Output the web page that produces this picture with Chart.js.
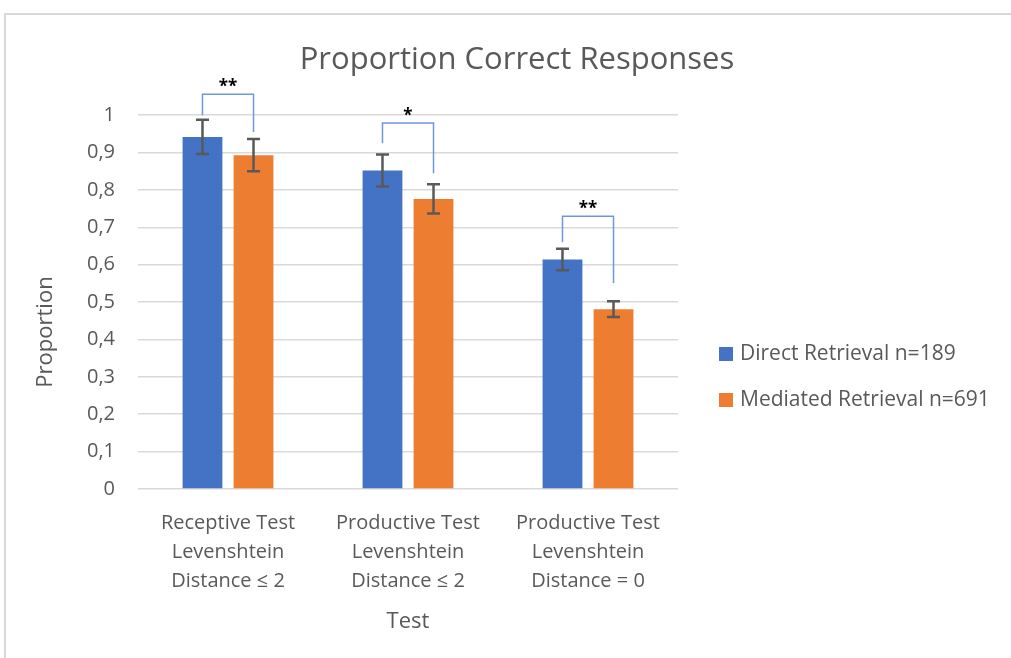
<!DOCTYPE html>
<html>
<head>
<meta charset="utf-8">
<script src="https://cdn.jsdelivr.net/npm/chart.js@4"></script>
<style>
  html, body { margin: 0; padding: 0; background: #fff; }
  #wrap { position: relative; width: 1011px; height: 658px; overflow: hidden; }
  #frame {
    position: absolute; left: 4px; top: 13px; width: 1100px; height: 700px;
    border-left: 2px solid #d9d9d9; border-top: 2px solid #d9d9d9;
  }
  canvas { position: absolute; left: 0; top: 0; }
</style>
</head>
<body>
<div id="wrap">
  <canvas id="chart" width="1011" height="658"></canvas>
  <div id="frame"></div>
</div>
<script>
const categories = [
  ["Receptive Test", "Levenshtein", "Distance ≤ 2"],
  ["Productive Test", "Levenshtein", "Distance ≤ 2"],
  ["Productive Test", "Levenshtein", "Distance = 0"]
];
const seriesNames = ["Direct Retrieval n=189", "Mediated Retrieval n=691"];
const directValues = [0.942, 0.852, 0.614];
const mediatedValues = [0.893, 0.776, 0.481];
const directErrors = [0.046, 0.043, 0.029];
const mediatedErrors = [0.043, 0.039, 0.021];

// significance brackets (in proportion units)
const bracketTop = [1.056, 0.979, 0.730];
const bracketLeftEnd = [1.0, 0.925, 0.660];
const bracketRightEnd = [0.955, 0.845, 0.551];
const sigLabels = ["**", "*", "**"];

const yMin = 0, yMax = 1, yStep = 0.1;

const FONT = "'Open Sans', 'Noto Sans', sans-serif";
const GREY = "#595959";
const BLUE = "#4472C4";
const ORANGE = "#ED7D31";

const fmtTick = (v) => {
  const r = Math.round(v * 10) / 10;
  if (r === 0) return "0";
  if (r === 1) return "1";
  return r.toFixed(1).replace(".", ",");
};

const errorBarsPlugin = {
  id: "errorBars",
  afterDatasetsDraw(chart) {
    const { ctx } = chart;
    const y = chart.scales.y;
    const errs = [directErrors, mediatedErrors];
    ctx.save();
    ctx.strokeStyle = GREY;
    ctx.lineWidth = 2.5;
    chart.data.datasets.forEach((ds, i) => {
      const meta = chart.getDatasetMeta(i);
      meta.data.forEach((bar, j) => {
        const v = ds.data[j];
        const e = errs[i][j];
        const yt = y.getPixelForValue(v + e);
        const yb = y.getPixelForValue(v - e);
        ctx.beginPath();
        ctx.moveTo(bar.x, yt); ctx.lineTo(bar.x, yb);
        ctx.moveTo(bar.x - 6.5, yt); ctx.lineTo(bar.x + 6.5, yt);
        ctx.moveTo(bar.x - 6.5, yb); ctx.lineTo(bar.x + 6.5, yb);
        ctx.stroke();
      });
    });
    ctx.restore();
  }
};

const bracketsPlugin = {
  id: "brackets",
  afterDatasetsDraw(chart) {
    const { ctx } = chart;
    const y = chart.scales.y;
    const m0 = chart.getDatasetMeta(0);
    const m1 = chart.getDatasetMeta(1);
    ctx.save();
    ctx.strokeStyle = "#6f97dc";
    ctx.lineWidth = 1.5;
    categories.forEach((c, j) => {
      const x1 = m0.data[j].x;
      const x2 = m1.data[j].x;
      const yt = y.getPixelForValue(bracketTop[j]);
      ctx.beginPath();
      ctx.moveTo(x1, y.getPixelForValue(bracketLeftEnd[j]));
      ctx.lineTo(x1, yt);
      ctx.lineTo(x2, yt);
      ctx.lineTo(x2, y.getPixelForValue(bracketRightEnd[j]));
      ctx.stroke();
      ctx.fillStyle = "#000";
      ctx.font = "bold 17px " + FONT;
      ctx.textAlign = "center";
      ctx.textBaseline = "alphabetic";
      ctx.fillText(sigLabels[j], (x1 + x2) / 2, yt - 2);
    });
    ctx.restore();
  }
};

// y axis title and legend drawn by hand so they sit where the original has them
const extrasPlugin = {
  id: "extras",
  afterDraw(chart) {
    const { ctx } = chart;
    ctx.save();
    ctx.fillStyle = GREY;
    ctx.font = "22px " + FONT;
    ctx.translate(46, 332);
    ctx.rotate(-Math.PI / 2);
    ctx.textAlign = "center";
    ctx.textBaseline = "middle";
    ctx.fillText("Proportion", 0, 0);
    ctx.restore();

    ctx.save();
    const ys = [354, 400];
    chart.data.datasets.forEach((ds, i) => {
      ctx.fillStyle = ds.backgroundColor;
      ctx.fillRect(719, ys[i] - 7, 14, 14);
      ctx.fillStyle = GREY;
      ctx.font = "21px " + FONT;
      ctx.textAlign = "left";
      ctx.textBaseline = "middle";
      ctx.fillText(ds.label, 740, ys[i]);
    });
    ctx.restore();
  }
};

new Chart(document.getElementById("chart"), {
  type: "bar",
  data: {
    labels: categories,
    datasets: [
      { label: seriesNames[0], data: directValues, backgroundColor: BLUE,
        categoryPercentage: 0.567, barPercentage: 0.78 },
      { label: seriesNames[1], data: mediatedValues, backgroundColor: ORANGE,
        categoryPercentage: 0.567, barPercentage: 0.78 }
    ]
  },
  options: {
    responsive: false,
    animation: false,
    devicePixelRatio: 1,
    layout: { padding: { left: 23, right: 0, top: 0, bottom: 0 } },
    plugins: {
      legend: { display: false },
      tooltip: { enabled: false },
      title: {
        display: true,
        text: "Proportion Correct Responses",
        color: GREY,
        font: { family: FONT, size: 31, weight: "normal" },
        padding: { top: 42, bottom: 36 }
      }
    },
    scales: {
      x: {
        grid: { display: false },
        border: { display: false },
        ticks: {
          color: GREY,
          font: { family: FONT, size: 20, lineHeight: 1.45 },
          padding: 12,
          maxRotation: 0
        },
        title: {
          display: true,
          text: "Test",
          color: GREY,
          font: { family: FONT, size: 22 },
          padding: { top: 0, bottom: 23 }
        },
        afterFit(s) { s.height = 169; }
      },
      y: {
        min: yMin,
        max: yMax,
        grid: { color: "#d9d9d9", lineWidth: 1.5, drawTicks: false },
        border: { display: false },
        ticks: {
          stepSize: yStep,
          color: GREY,
          font: { family: FONT, size: 20 },
          padding: 23,
          callback: (v) => fmtTick(v)
        },
        afterFit(s) { s.width = 115; }
      },
      legendSpace: {
        type: "linear",
        position: "right",
        display: true,
        grid: { display: false },
        border: { display: false },
        ticks: { display: false },
        afterFit(s) { s.width = 333; }
      }
    }
  },
  plugins: [errorBarsPlugin, bracketsPlugin, extrasPlugin]
});
</script>
</body>
</html>
